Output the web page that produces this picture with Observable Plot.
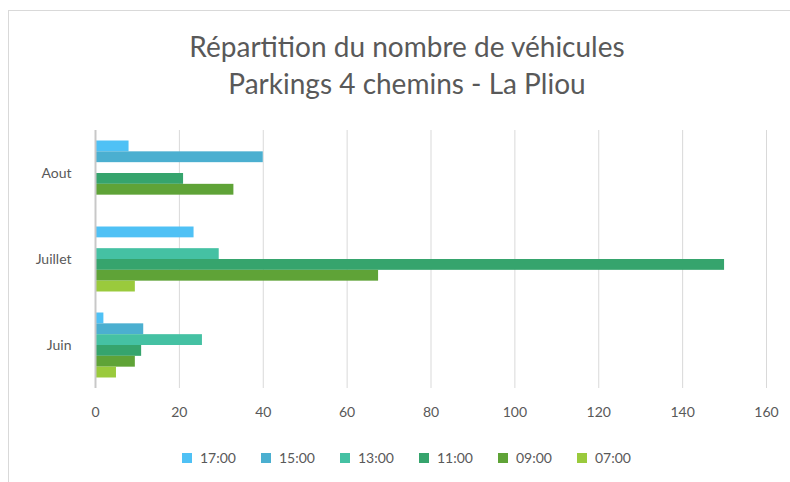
<!DOCTYPE html>
<html>
<head>
<meta charset="utf-8">
<script src="https://cdn.jsdelivr.net/npm/d3@7"></script>
<script src="https://cdn.jsdelivr.net/npm/@observablehq/plot@0.6"></script>
<style>
  html, body { margin: 0; padding: 0; background: #fff; }
  #wrap { position: relative; width: 790px; height: 482px; overflow: hidden; background: #fff; font-family: Lato, "Open Sans", sans-serif; color: #595959; }
  #frame { position: absolute; left: 8px; top: 10px; width: 900px; height: 600px; border: 1px solid #d9d9d9; box-sizing: border-box; }
  #title { position: absolute; left: 0; top: 28px; width: 814px; text-align: center; font-size: 28px; line-height: 37px; color: #595959; }
  #chart { position: absolute; left: 0; top: 0; }
  #legend { position: absolute; left: 182px; top: 449px; display: flex; font-size: 14px; color: #595959; }
  #legend .item { width: 79px; display: flex; align-items: center; }
  #legend .sw { width: 10px; height: 10px; margin-right: 8px; }
</style>
</head>
<body>
<div id="wrap">
  <div id="frame"></div>
  <div id="title">Répartition du nombre de véhicules<br>Parkings 4 chemins - La Pliou</div>
  <div id="chart"></div>
  <div id="legend"></div>
</div>
<script>
const months = ["Aout", "Juillet", "Juin"];
const hours = ["17:00", "15:00", "13:00", "11:00", "09:00", "07:00"];
const colors = ["#4FC1F5", "#4BAFD0", "#45C1A3", "#36A46D", "#5FA337", "#9ACA3C"];
// values per hour, in the order of months (Aout, Juillet, Juin)
const v1700 = [8, 23.5, 2];
const v1500 = [40, null, 11.5];
const v1300 = [null, 29.5, 25.5];
const v1100 = [21, 150, 11];
const v0900 = [33, 67.5, 9.5];
const v0700 = [null, 9.5, 5];
const xTicks = [0, 20, 40, 60, 80, 100, 120, 140, 160];

const series = [v1700, v1500, v1300, v1100, v0900, v0700];
const data = [];
hours.forEach((h, i) => {
  months.forEach((m, j) => {
    const v = series[i][j];
    if (v != null) data.push({hour: h, month: m, value: v});
  });
});

const chart = Plot.plot({
  width: 790,
  height: 440,
  marginLeft: 95,
  marginRight: 24,
  marginTop: 130,
  marginBottom: 52,
  style: {fontFamily: "Lato, 'Open Sans', sans-serif", fontSize: "14px", color: "#595959", background: "transparent"},
  x: {domain: [0, 160], ticks: xTicks, tickSize: 0, tickPadding: 19, label: null},
  y: {domain: hours, axis: null, paddingInner: 0, paddingOuter: 0.97, round: false},
  fy: {domain: months, padding: 0, label: null, tickSize: 0, tickPadding: 24, axis: "left"},
  color: {domain: hours, range: colors},
  marks: [
    Plot.gridX(xTicks, {stroke: "#d9d9d9", strokeOpacity: 1}),
    Plot.barX(data, {x: "value", y: "hour", fy: "month", fill: "hour"}),
    Plot.ruleX([0], {stroke: "#c8c8c8", strokeWidth: 2})
  ]
});
document.getElementById("chart").appendChild(chart);

const legend = document.getElementById("legend");
hours.forEach((h, i) => {
  const item = document.createElement("div");
  item.className = "item";
  const sw = document.createElement("span");
  sw.className = "sw";
  sw.style.background = colors[i];
  const t = document.createElement("span");
  t.textContent = h;
  item.appendChild(sw);
  item.appendChild(t);
  legend.appendChild(item);
});
</script>
</body>
</html>
